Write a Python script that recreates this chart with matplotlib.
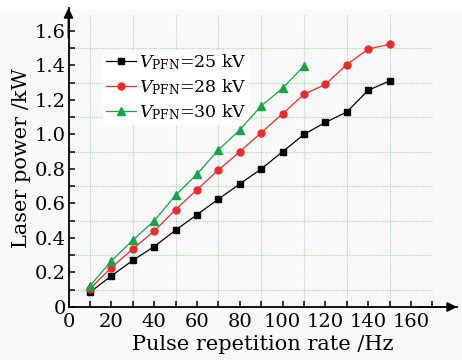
import matplotlib
matplotlib.use("Agg")
import matplotlib.pyplot as plt
from matplotlib.patches import Rectangle
from matplotlib.ticker import FuncFormatter

plt.rcParams['font.family'] = ['DejaVu Serif']
plt.rcParams['mathtext.fontset'] = 'dejavuserif'

# data
rate_25 = [10, 20, 30, 40, 50, 60, 70, 80, 90, 100, 110, 120, 130, 140, 150]
power_25 = [0.085, 0.18, 0.27, 0.35, 0.445, 0.535, 0.625, 0.713, 0.80, 0.90, 1.00, 1.07, 1.13, 1.256, 1.31]
rate_28 = [10, 20, 30, 40, 50, 60, 70, 80, 90, 100, 110, 120, 130, 140, 150]
power_28 = [0.106, 0.228, 0.336, 0.44, 0.564, 0.68, 0.794, 0.90, 1.01, 1.12, 1.233, 1.29, 1.405, 1.495, 1.522]
rate_30 = [10, 20, 30, 40, 50, 60, 70, 80, 90, 100, 110]
power_30 = [0.122, 0.267, 0.387, 0.50, 0.647, 0.77, 0.91, 1.026, 1.165, 1.268, 1.397]
labels = [r'$V_{\mathrm{PFN}}$=25 kV', r'$V_{\mathrm{PFN}}$=28 kV', r'$V_{\mathrm{PFN}}$=30 kV']
x_major = [0, 20, 40, 60, 80, 100, 120, 140, 160]
y_major = [0, 0.2, 0.4, 0.6, 0.8, 1.0, 1.2, 1.4, 1.6]
x_grid = [10, 30, 50, 70, 90, 110, 130, 150]
y_grid = [0.1, 0.3, 0.5, 0.7, 0.9, 1.1, 1.3, 1.5]

fig = plt.figure(figsize=(4.62, 3.6), dpi=100, facecolor='#f9f9f9')
fig.patches.append(Rectangle((0, 352/360), 1, 8/360, transform=fig.transFigure,
                             color='white', zorder=-1))
ax = fig.add_axes([68.5/462, 53/360, 388.5/462, 299/360])
ax.set_facecolor('none')
ax.set_xlim(0, 181.5)
ax.set_ylim(0, 1.733)

gc = '#a9d9a9'
ax.vlines(x_grid, 0, 1.7, colors=gc, linestyles=(0, (1, 1)), lw=0.8, zorder=0)
ax.hlines(y_grid, 0, 170, colors=gc, linestyles=(0, (1, 1)), lw=0.8, zorder=0)

ax.plot(rate_25, power_25, '-s', color='black', lw=0.9, ms=4.5, label=labels[0], zorder=3)
ax.plot(rate_28, power_28, '-o', color='#ee2a2a', mec='#ee2a2a', lw=0.9, ms=5, label=labels[1], zorder=3)
ax.plot(rate_30, power_30, '-^', color='#17a348', lw=0.9, ms=5.5, label=labels[2], zorder=3)

for s in ['top', 'right']:
    ax.spines[s].set_visible(False)
for s in ['left', 'bottom']:
    ax.spines[s].set_linewidth(1.3)

ax.annotate('', xy=(1.0, 0), xytext=(0.9, 0), xycoords='axes fraction',
            arrowprops=dict(arrowstyle='-|>', color='black', lw=1.3, mutation_scale=14,
                            shrinkA=0, shrinkB=0))
ax.annotate('', xy=(0, 1.0), xytext=(0, 0.9), xycoords='axes fraction',
            arrowprops=dict(arrowstyle='-|>', color='black', lw=1.3, mutation_scale=14,
                            shrinkA=0, shrinkB=0))

ax.set_xticks(x_major)
ax.set_yticks(y_major)
ax.set_xticks(x_grid + [170], minor=True)
ax.set_yticks(y_grid, minor=True)
ax.xaxis.set_major_formatter(FuncFormatter(lambda v, p: '0' if abs(v) < 1e-9 else '%d' % v))
ax.yaxis.set_major_formatter(FuncFormatter(lambda v, p: '0' if abs(v) < 1e-9 else '%.1f' % v))
ax.tick_params(which='both', direction='in', width=1.1)
ax.tick_params(which='major', length=4, labelsize=14)
ax.tick_params(which='minor', length=4)
ax.tick_params(axis='y', pad=2)
ax.tick_params(axis='x', pad=4)

ax.set_xlabel('Pulse repetition rate /Hz', fontsize=15, labelpad=3)
ax.set_ylabel('Laser power /kW', fontsize=15, labelpad=3)

leg = ax.legend(loc='upper left', bbox_to_anchor=(0.09, 0.86), fontsize=12.5,
                frameon=True, facecolor='white', edgecolor='none', framealpha=1,
                handlelength=1.75, handletextpad=0.15, labelspacing=0.3,
                borderpad=0.15, borderaxespad=0)
leg.set_zorder(2)

fig.savefig('out.png', dpi=100, facecolor=fig.get_facecolor())
